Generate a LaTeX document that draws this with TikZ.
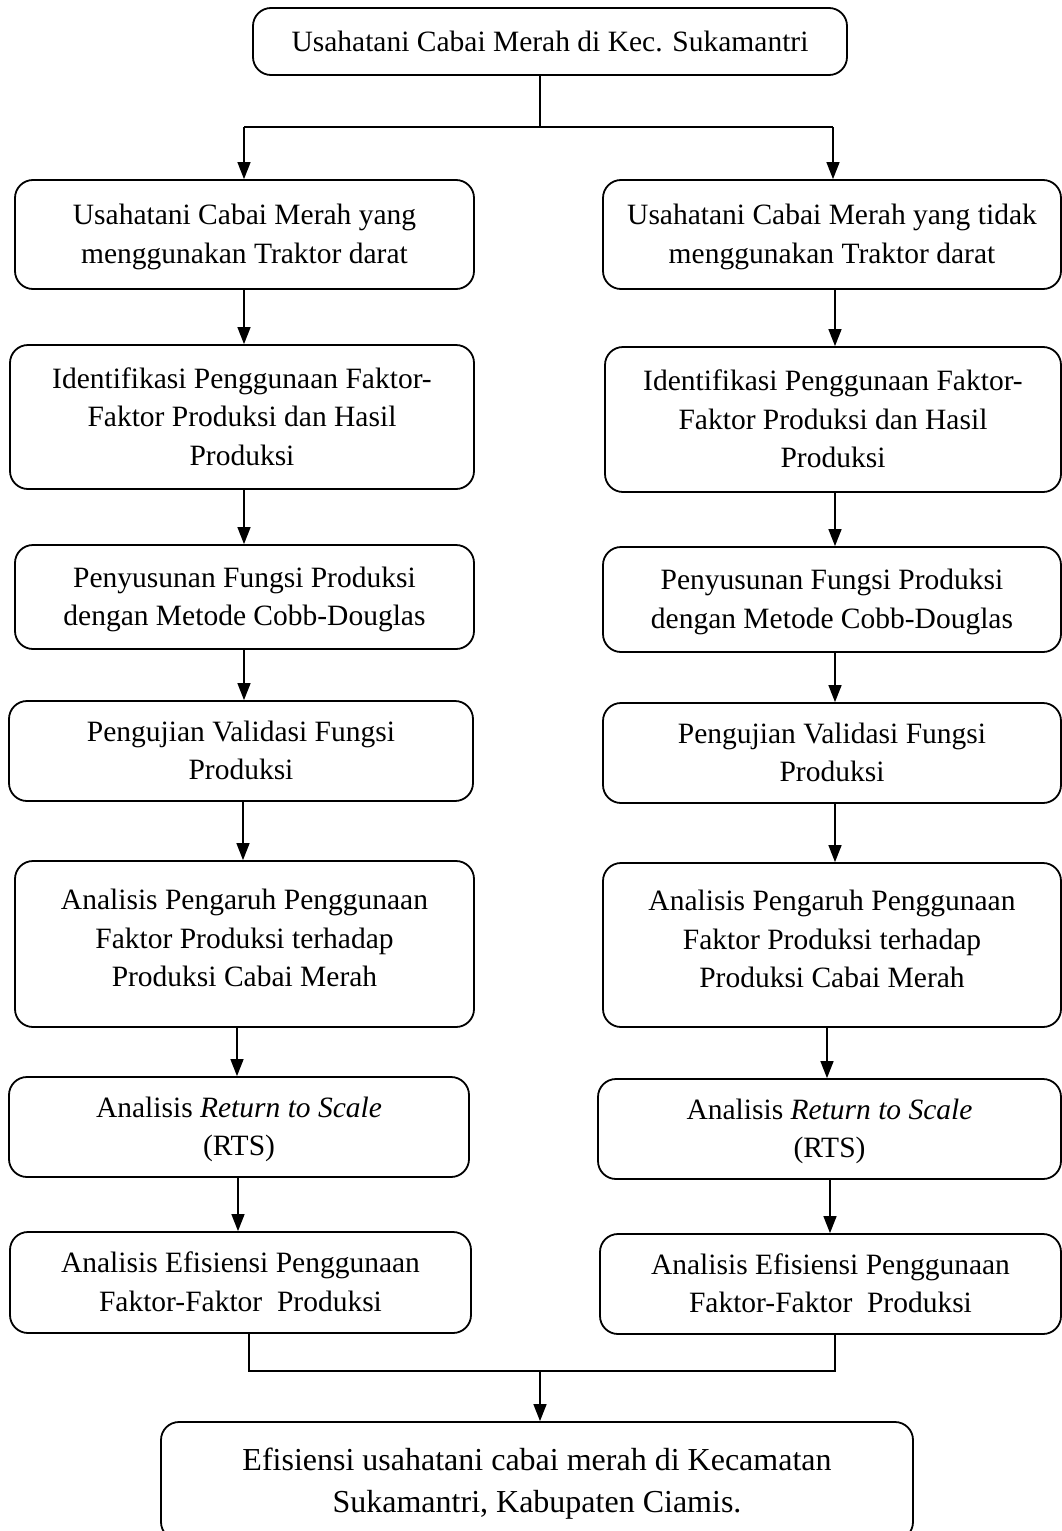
\documentclass[tikz,border=0pt]{standalone}
\usepackage{fontspec}
\setmainfont{Liberation Serif}
\usetikzlibrary{arrows.meta}
\newcommand\mainsz{\fontsize{29.5}{38.5}\selectfont}
\newcommand\bigsz{\fontsize{32}{42}\selectfont}
\newcommand\TopS{\rule{0pt}{27pt}}
\newcommand\BotS{\rule[-8pt]{0pt}{8pt}}
\newcommand\BotL{\rule[-19pt]{0pt}{19pt}}
\newcommand\TopB{\rule{0pt}{29pt}}
\newcommand\BotB{\rule[-9pt]{0pt}{9pt}}
\begin{document}
\begin{tikzpicture}[x=1pt,y=-1pt,
  box/.style={draw, line width=1.8pt, rounded corners=18pt, align=center, inner sep=0pt, font=\mainsz},
  ln/.style={line width=1.4pt},
  arr/.style={line width=1.4pt, -{Triangle[length=17pt,width=13pt]}}]
\useasboundingbox (0,0) rectangle (1062,1531);
\clip (0,0) rectangle (1062,1531);
% top
\node[box, minimum width=594pt, minimum height=67pt] (top) at (550,41.5) {\TopS Usahatani Cabai Merah di Kec. Sukamantri\BotS};
% left column
\node[box, minimum width=459pt, minimum height=109pt] (L1) at (244.5,234.5) {\TopS Usahatani Cabai Merah yang\\menggunakan Traktor darat\BotS};
\node[box, minimum width=464pt, minimum height=144pt] (L2) at (242,417) {\TopS Identifikasi Penggunaan Faktor-\\Faktor Produksi dan Hasil\\Produksi\BotS};
\node[box, minimum width=459pt, minimum height=104pt] (L3) at (244.5,597) {\TopS Penyusunan Fungsi Produksi\\dengan Metode Cobb-Douglas\BotS};
\node[box, minimum width=464pt, minimum height=100pt] (L4) at (241,751) {\TopS Pengujian Validasi Fungsi\\Produksi\BotS};
\node[box, minimum width=459pt, minimum height=166pt] (L5) at (244.5,944) {\TopS Analisis Pengaruh Penggunaan\\Faktor Produksi terhadap\\Produksi Cabai Merah\BotL};
\node[box, minimum width=460pt, minimum height=100pt] (L6) at (239,1127) {\TopS Analisis \textit{Return to Scale}\\(RTS)\BotS};
\node[box, minimum width=461pt, minimum height=101pt] (L7) at (240.5,1282.5) {\TopS Analisis Efisiensi Penggunaan\\Faktor-Faktor~ Produksi\BotS};
% right column
\node[box, minimum width=458pt, minimum height=109pt] (R1) at (832,234.5) {\TopS Usahatani Cabai Merah yang tidak\\menggunakan Traktor darat\BotS};
\node[box, minimum width=456pt, minimum height=145pt] (R2) at (833,419.5) {\TopS Identifikasi Penggunaan Faktor-\\Faktor Produksi dan Hasil\\Produksi\BotS};
\node[box, minimum width=458pt, minimum height=105pt] (R3) at (832,599.5) {\TopS Penyusunan Fungsi Produksi\\dengan Metode Cobb-Douglas\BotS};
\node[box, minimum width=458pt, minimum height=100pt] (R4) at (832,753) {\TopS Pengujian Validasi Fungsi\\Produksi\BotS};
\node[box, minimum width=458pt, minimum height=164pt] (R5) at (832,945) {\TopS Analisis Pengaruh Penggunaan\\Faktor Produksi terhadap\\Produksi Cabai Merah\BotL};
\node[box, minimum width=463pt, minimum height=100pt] (R6) at (829.5,1129) {\TopS Analisis \textit{Return to Scale}\\(RTS)\BotS};
\node[box, minimum width=461pt, minimum height=100pt] (R7) at (830.5,1284) {\TopS Analisis Efisiensi Penggunaan\\Faktor-Faktor~ Produksi\BotS};
% bottom
\node[box, font=\bigsz, minimum width=752pt, minimum height=118pt] (bot) at (537,1481) {\TopB Efisiensi usahatani cabai merah di Kecamatan\\Sukamantri, Kabupaten Ciamis.\BotB};
% connectors top
\coordinate (j0) at (540,127);
\coordinate (jl) at (244,127);
\coordinate (jr) at (833,127);
\draw[ln] (top.south -| j0) -- (j0);
\draw[ln] (jl) -- (jr);
\draw[arr] (jl) -- (jl |- L1.north);
\draw[arr] (jr) -- (jr |- R1.north);
% left arrows
\draw[arr] ([xshift=-0.5pt]L1.south) -- ([xshift=-0.5pt]L1.south |- L2.north);
\draw[arr] ([xshift=2pt]L2.south) -- ([xshift=2pt]L2.south |- L3.north);
\draw[arr] ([xshift=-0.5pt]L3.south) -- ([xshift=-0.5pt]L3.south |- L4.north);
\draw[arr] ([xshift=2pt]L4.south) -- ([xshift=2pt]L4.south |- L5.north);
\draw[arr] ([xshift=-7.5pt]L5.south) -- ([xshift=-7.5pt]L5.south |- L6.north);
\draw[arr] ([xshift=-1pt]L6.south) -- ([xshift=-1pt]L6.south |- L7.north);
% right arrows
\draw[arr] ([xshift=3pt]R1.south) -- ([xshift=3pt]R1.south |- R2.north);
\draw[arr] ([xshift=2pt]R2.south) -- ([xshift=2pt]R2.south |- R3.north);
\draw[arr] ([xshift=3pt]R3.south) -- ([xshift=3pt]R3.south |- R4.north);
\draw[arr] ([xshift=3pt]R4.south) -- ([xshift=3pt]R4.south |- R5.north);
\draw[arr] ([xshift=-5pt]R5.south) -- ([xshift=-5pt]R5.south |- R6.north);
\draw[arr] ([xshift=0.5pt]R6.south) -- ([xshift=0.5pt]R6.south |- R7.north);
% bottom connectors
\coordinate (bl) at (249,1371);
\coordinate (br) at (835,1371);
\coordinate (bm) at (540,1371);
\draw[ln] (L7.south -| bl) -- (bl) -- (br) -- (R7.south -| br);
\draw[arr] (bm) -- (bm |- bot.north);
\end{tikzpicture}
\end{document}
